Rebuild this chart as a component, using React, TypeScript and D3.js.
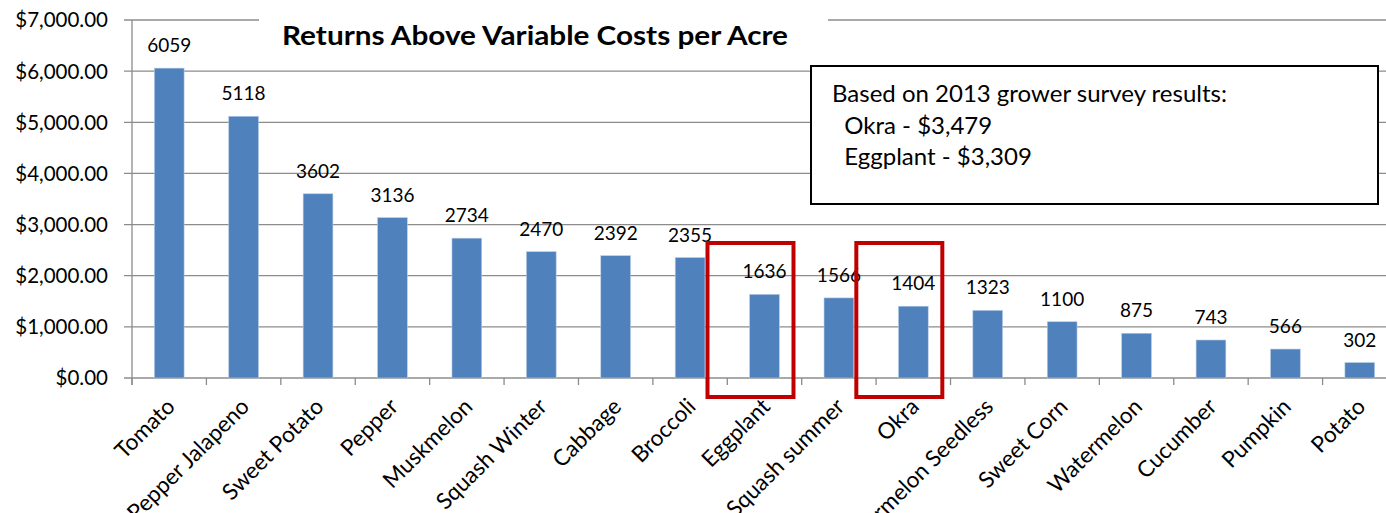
import * as d3 from "d3";
import React from "react";

const categories = [
  "Tomato",
  "Pepper Jalapeno",
  "Sweet Potato",
  "Pepper",
  "Muskmelon",
  "Squash Winter",
  "Cabbage",
  "Broccoli",
  "Eggplant",
  "Squash summer",
  "Okra",
  "Watermelon Seedless",
  "Sweet Corn",
  "Watermelon",
  "Cucumber",
  "Pumpkin",
  "Potato",
];
const returns = [
  6059, 5118, 3602, 3136, 2734, 2470, 2392, 2355, 1636, 1566, 1404, 1323, 1100,
  875, 743, 566, 302,
];
const yTicks = [0, 1000, 2000, 3000, 4000, 5000, 6000, 7000];
const highlighted = ["Eggplant", "Okra"];
const surveyNotes = [
  "Based on 2013 grower survey results:",
  "\u00a0\u00a0Okra - $3,479",
  "\u00a0\u00a0Eggplant - $3,309",
];
const title = "Returns Above Variable Costs per Acre";

const W = 1386;
const H = 513;
const FONT = "Lato, 'Open Sans', sans-serif";

const App: React.FC = () => {
  const left = 132;
  const right = 1397; // plot runs past the window edge
  const top = 20;
  const bottom = 378;

  const x = d3
    .scaleBand<string>()
    .domain(categories)
    .range([left, right])
    .paddingInner(0.6)
    .paddingOuter(0.3);
  const y = d3.scaleLinear().domain([0, 7000]).range([bottom, top]);
  const step = x.step();
  const fmt = d3.format("$,.2f");

  return (
    <svg
      width={W}
      height={H}
      style={{ position: "absolute", left: 0, top: 0, background: "#fff" }}
      fontFamily={FONT}
    >
      {/* gridlines */}
      {yTicks.map((t) => (
        <line
          key={"g" + t}
          x1={left - 8}
          x2={right}
          y1={y(t)}
          y2={y(t)}
          stroke="#8c8c8c"
          strokeWidth={1.3}
        />
      ))}
      {/* y labels */}
      {yTicks.map((t) => (
        <text
          key={"yl" + t}
          x={108}
          y={y(t)}
          dy="0.36em"
          textAnchor="end"
          fontSize={20.5}
          fill="#000"
        >
          {fmt(t)}
        </text>
      ))}
      {/* y axis line */}
      <line x1={left} x2={left} y1={top} y2={bottom + 7} stroke="#8c8c8c" strokeWidth={1.3} />
      {/* x ticks */}
      {d3.range(categories.length + 1).map((i) => (
        <line
          key={"xt" + i}
          x1={left + i * step}
          x2={left + i * step}
          y1={bottom}
          y2={bottom + 7}
          stroke="#8c8c8c"
          strokeWidth={1.3}
        />
      ))}
      {/* bars */}
      {categories.map((c, i) => (
        <rect
          key={"b" + c}
          x={x(c)}
          y={y(returns[i])}
          width={x.bandwidth()}
          height={y(0) - y(returns[i])}
          fill="#4f81bd"
          stroke="#b9cde5"
          strokeWidth={0.6}
        />
      ))}
      {/* value labels */}
      {categories.map((c, i) => (
        <text
          key={"v" + c}
          x={(x(c) || 0) + x.bandwidth() / 2}
          y={y(returns[i]) - 16}
          textAnchor="middle"
          fontSize={19}
          fill="#000"
        >
          {returns[i]}
        </text>
      ))}
      {/* category labels */}
      {categories.map((c) => {
        const cx = (x(c) || 0) + x.bandwidth() / 2 + 7;
        const cy = bottom + 30;
        return (
          <text
            key={"c" + c}
            transform={`translate(${cx},${cy}) rotate(-45)`}
            textAnchor="end"
            fontSize={22.5}
            fill="#000"
          >
            {c}
          </text>
        );
      })}
      {/* title */}
      <rect x={259} y={top - 4} width={569} height={42} fill="#fff" />
      <text
        x={535}
        y={45}
        textAnchor="middle"
        fontSize={26}
        fontWeight="bold"
        textLength={506}
        lengthAdjust="spacingAndGlyphs"
        fill="#000"
      >
        {title}
      </text>
      {/* survey note box */}
      <rect x={811} y={66} width={567} height={138} fill="#fff" stroke="#000" strokeWidth={2} />
      {surveyNotes.map((s, i) => (
        <text key={"n" + i} x={832} y={102 + i * 31.5} fontSize={24} fill="#000" style={{ whiteSpace: "pre" }}>
          {s}
        </text>
      ))}
      {/* highlight boxes */}
      {highlighted.map((c) => {
        const cx = (x(c) || 0) + x.bandwidth() / 2 - 14;
        return (
          <rect
            key={"h" + c}
            x={cx - 43}
            y={243}
            width={86}
            height={bottom + 19 - 243}
            fill="none"
            stroke="#c00000"
            strokeWidth={4}
          />
        );
      })}
    </svg>
  );
};

export default App;
